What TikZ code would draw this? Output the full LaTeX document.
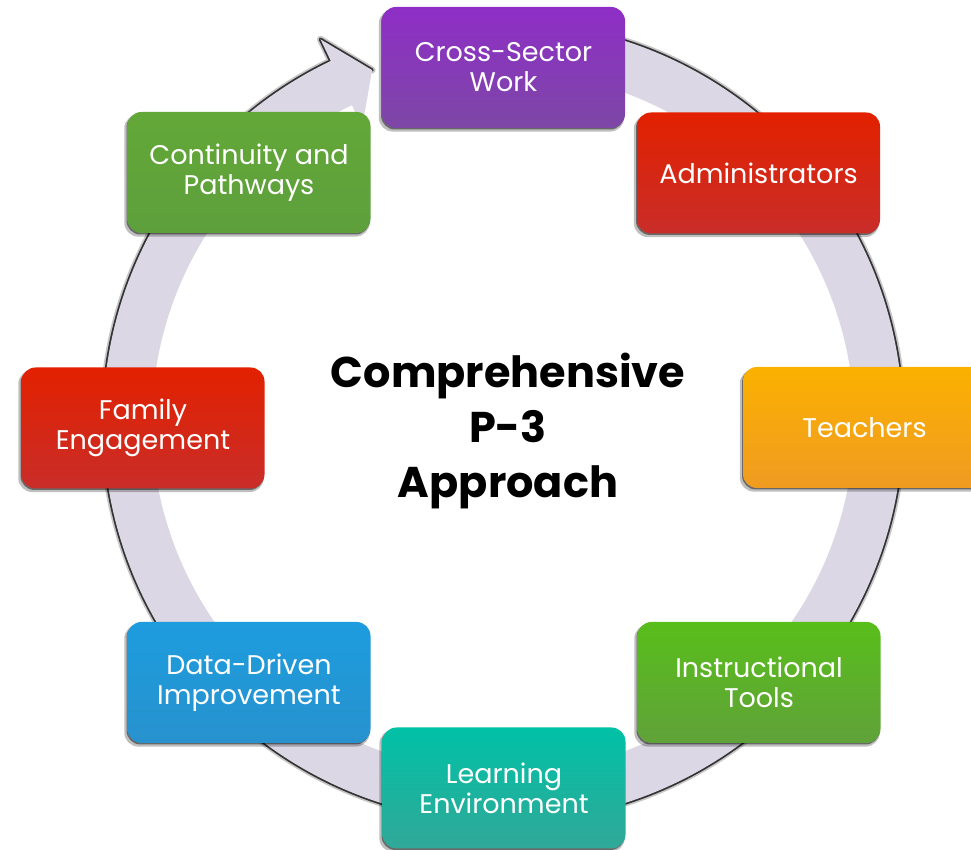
\documentclass[tikz,border=0pt]{standalone}
\usepackage{fontspec}
\setmainfont{Poppins}
\usetikzlibrary{shadows}
\definecolor{ringc}{RGB}{220,215,229}
\definecolor{csTop}{HTML}{8E2EC6}
\definecolor{csBot}{HTML}{7D47A6}
\definecolor{redTop}{HTML}{E22100}
\definecolor{redBot}{HTML}{C92D29}
\definecolor{tchTop}{HTML}{FBB100}
\definecolor{tchBot}{HTML}{EF9B22}
\definecolor{insTop}{HTML}{58BE1A}
\definecolor{insBot}{HTML}{60A23A}
\definecolor{lrnTop}{HTML}{00C1A6}
\definecolor{lrnBot}{HTML}{31A898}
\definecolor{dataTop}{HTML}{1D9CDE}
\definecolor{dataBot}{HTML}{2892CE}
\definecolor{contTop}{HTML}{62A838}
\definecolor{contBot}{HTML}{5E9F3C}
\begin{document}
\begin{tikzpicture}[x=1pt,y=1pt,
  box/.style={rounded corners=14pt, minimum width=243pt, minimum height=121pt,
    align=center, text=white, inner sep=0pt,
    font=\fontsize{27}{30}\selectfont,
    drop shadow={shadow xshift=-2pt, shadow yshift=-3pt, opacity=.25, fill=black, shadow scale=1.01},
    drop shadow={shadow xshift=-1pt, shadow yshift=-1.5pt, opacity=.45, fill=black}},
  ringedge/.style={line join=round, line cap=round}
  ]
\useasboundingbox (0,0) rectangle (971,850);
% ring with arrow
\begin{scope}[shift={(503,428)}]
  \draw[ringedge, line width=7pt, black, opacity=.22]
    (100:400) arc[start angle=100, end angle=-244.5, radius=400] -- (-244.5:424) -- (-249.6:375.5);
  \draw[ringedge, line width=3.5pt, black!80]
    (100:400) arc[start angle=100, end angle=-244.5, radius=400] -- (-244.5:424) -- (-249.6:375.5);
  \fill[ringc]
    (100:400) arc[start angle=100, end angle=-244.5, radius=400]
    -- (-244.5:424) -- (-249.6:375.5) -- (-244.5:327) -- (-244.5:351)
    arc[start angle=-244.5, end angle=100, radius=351] -- cycle;
\end{scope}
% boxes
\node[box, top color=csTop, bottom color=csBot] (cs) at (503.5,782.5) {Cross-Sector\\Work};
\node[box, top color=redTop, bottom color=redBot] (adm) at (758.5,677) {Administrators};
\node[box, top color=tchTop, bottom color=tchBot] (tch) at (864.5,422.5) {Teachers};
\node[box, top color=insTop, bottom color=insBot] (ins) at (759,167.5) {Instructional\\Tools};
\node[box, top color=lrnTop, bottom color=lrnBot] (lrn) at (504,62) {Learning\\Environment};
\node[box, top color=dataTop, bottom color=dataBot] (data) at (249,167.5) {Data-Driven\\Improvement};
\node[box, top color=redTop, bottom color=redBot] (fam) at (143,422) {Family\\Engagement};
\node[box, top color=contTop, bottom color=contBot] (cont) at (249,677.5) {Continuity and\\Pathways};
% centre text
\node[align=center, font=\fontsize{43}{55}\selectfont\bfseries] (ctr) at (508,419) {Comprehensive\\P-3\\Approach};
\end{tikzpicture}
\end{document}
